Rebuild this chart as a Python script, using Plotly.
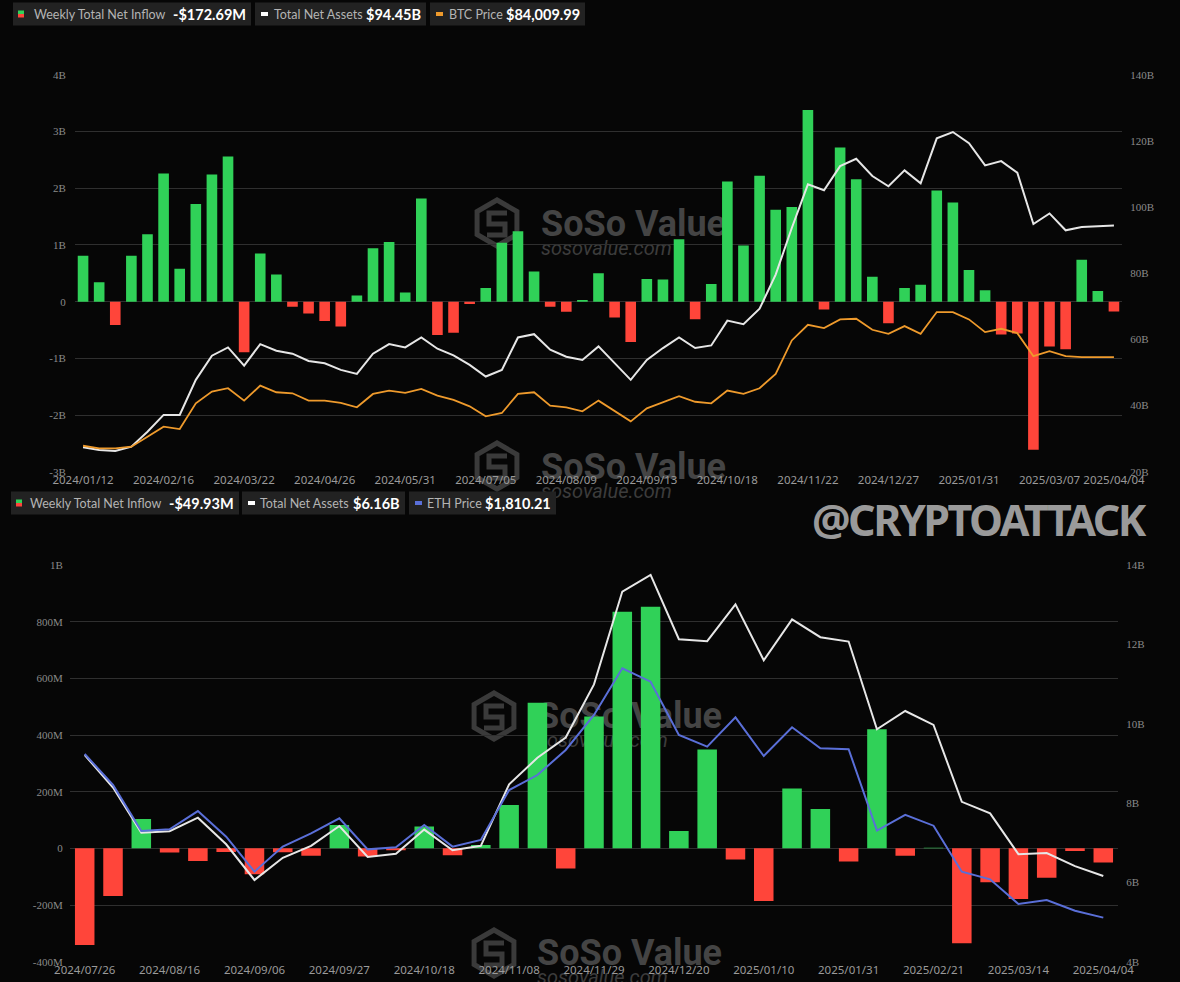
import math
import pandas as pd
import plotly.graph_objects as go

# ---------------- DATA ----------------
btc_dates = [d.strftime('%Y/%m/%d') for d in pd.date_range('2024-01-12', periods=65, freq='7D')]
btc_flow_b = [0.81, 0.34, -0.41, 0.81, 1.19, 2.26, 0.58, 1.72, 2.24, 2.56,
              -0.89, 0.85, 0.48, -0.09, -0.21, -0.34, -0.44, 0.11, 0.94, 1.05,
              0.16, 1.82, -0.59, -0.55, -0.04, 0.24, 1.04, 1.24, 0.53, -0.09,
              -0.18, 0.03, 0.50, -0.28, -0.71, 0.40, 0.39, 1.10, -0.31, 0.31,
              2.12, 0.99, 2.22, 1.62, 1.67, 3.38, -0.14, 2.72, 2.16, 0.44,
              -0.38, 0.24, 0.30, 1.96, 1.75, 0.56, 0.20, -0.58, -0.56, -2.61,
              -0.79, -0.84, 0.74, 0.19, -0.17269]
btc_assets_b = [27.4, 26.6, 26.3, 27.6, 32.1, 37.2, 37.2, 47.8, 55.1, 57.6,
                52.1, 58.6, 56.6, 55.7, 53.5, 52.8, 50.8, 49.6, 55.7, 58.6,
                57.6, 60.6, 57.2, 55.2, 52.3, 48.8, 50.8, 60.6, 61.6, 56.9,
                54.8, 53.8, 57.9, 52.8, 47.8, 53.8, 57.4, 60.6, 57.4, 58.2,
                65.7, 64.6, 69.3, 79.6, 93.7, 106.9, 105.1, 112.4, 114.6, 109.4,
                106.3, 111.1, 107.2, 120.8, 122.7, 119.3, 112.6, 113.9, 110.4, 94.9,
                98.1, 93.0, 94.0, 94.2, 94.45]
btc_price = [44070, 42870, 42870, 43620, 48150, 52660, 51610, 63210, 68490, 70000,
             64420, 71200, 68190, 67730, 64420, 64420, 63360, 61400, 67430, 68940,
             67880, 69690, 66680, 64720, 61860, 57340, 58840, 67430, 68190, 62160,
             61400, 59600, 64420, 59900, 55080, 60950, 63660, 66380, 63910, 63210,
             68940, 67430, 70000, 76480, 91550, 98630, 97120, 101040, 101340, 96370,
             94560, 98020, 94560, 104350, 104350, 101040, 95310, 96820, 94860, 84460,
             86720, 84460, 84010, 84010, 84009.99]
btc_ticks = ['2024/01/12', '2024/02/16', '2024/03/22', '2024/04/26', '2024/05/31',
             '2024/07/05', '2024/08/09', '2024/09/13', '2024/10/18', '2024/11/22',
             '2024/12/27', '2025/01/31', '2025/03/07', '2025/04/04']
btc_left_vals = [-3, -2, -1, 0, 1, 2, 3, 4]
btc_left_text = ['-3B', '-2B', '-1B', '0', '1B', '2B', '3B', '4B']
btc_right_vals = [20, 40, 60, 80, 100, 120, 140]
btc_right_text = ['20B', '40B', '60B', '80B', '100B', '120B', '140B']

eth_dates = [d.strftime('%Y/%m/%d') for d in pd.date_range('2024-07-26', periods=37, freq='7D')]
eth_flow_m = [-341, -168, 104, -15, -45, -13, -91, -14, -26, 82,
              -29, -7, 77, -24, 12, 153, 514, -71, 465, 835,
              853, 61, 349, -39, -186, 211, 139, -46, 420, -26,
              2, -335, -120, -179, -104, -9, -49.93]
eth_assets_b = [9.21, 8.39, 7.25, 7.29, 7.63, 6.96, 6.06, 6.62, 6.92, 7.42,
                6.64, 6.72, 7.33, 6.81, 6.92, 8.47, 9.14, 9.65, 10.99, 13.33,
                13.75, 12.13, 12.08, 13.01, 11.60, 12.63, 12.18, 12.07, 9.86, 10.32,
                9.97, 8.03, 7.74, 6.71, 6.74, 6.41, 6.16]
eth_price = [3241, 2970, 2568, 2582, 2742, 2518, 2212, 2431, 2547, 2678,
             2407, 2425, 2620, 2431, 2489, 2926, 3057, 3276, 3582, 3990,
             3873, 3407, 3305, 3561, 3223, 3474, 3290, 3282, 2571, 2708,
             2614, 2212, 2145, 1929, 1964, 1871, 1810.21]
eth_ticks = ['2024/07/26', '2024/08/16', '2024/09/06', '2024/09/27', '2024/10/18',
             '2024/11/08', '2024/11/29', '2024/12/20', '2025/01/10', '2025/01/31',
             '2025/02/21', '2025/03/14', '2025/04/04']
eth_left_vals = [-400, -200, 0, 200, 400, 600, 800, 1000]
eth_left_text = ['-400M', '-200M', '0', '200M', '400M', '600M', '800M', '1B']
eth_right_vals = [4, 6, 8, 10, 12, 14]
eth_right_text = ['4B', '6B', '8B', '10B', '12B', '14B']

# ---------------- STYLE ----------------
W, H = 1180, 982
BG = '#060606'
GREEN = '#30d158'
RED = '#ff453a'
WHITE_LINE = '#e6e6e6'
ORANGE = '#ee9a2c'
BLUE = '#5a6fd8'
GRID = '#2f2f2f'
TICK_COLOR = '#8a8a8a'


def X(p):
    return p / W


def Y(p):
    return 1 - p / H


def colors(vals):
    return [GREEN if v >= 0 else RED for v in vals]


fig = go.Figure()

# ---- BTC panel ----
fig.add_trace(go.Bar(x=btc_dates, y=btc_flow_b, marker=dict(color=colors(btc_flow_b), line=dict(width=0)),
                     width=0.66, xaxis='x', yaxis='y', name='Weekly Total Net Inflow'))
fig.add_trace(go.Scatter(x=btc_dates, y=btc_assets_b, mode='lines', line=dict(color=WHITE_LINE, width=2),
                         xaxis='x', yaxis='y2', name='Total Net Assets'))
fig.add_trace(go.Scatter(x=btc_dates, y=btc_price, mode='lines', line=dict(color=ORANGE, width=1.8),
                         xaxis='x', yaxis='y3', name='BTC Price'))

# ---- ETH panel ----
fig.add_trace(go.Bar(x=eth_dates, y=eth_flow_m, marker=dict(color=colors(eth_flow_m), line=dict(width=0)),
                     width=0.69, xaxis='x2', yaxis='y4', name='Weekly Total Net Inflow'))
fig.add_trace(go.Scatter(x=eth_dates, y=eth_assets_b, mode='lines', line=dict(color=WHITE_LINE, width=2),
                         xaxis='x2', yaxis='y5', name='Total Net Assets'))
fig.add_trace(go.Scatter(x=eth_dates, y=eth_price, mode='lines', line=dict(color=BLUE, width=2),
                         xaxis='x2', yaxis='y6', name='ETH Price'))

xfont = dict(family='Noto Sans, Open Sans, sans-serif', size=11.5, color='#9a9a9a')
yfont = dict(family='Liberation Serif, serif', size=11, color=TICK_COLOR)

top_dom = [Y(471.8), Y(74.8)]
bot_dom = [Y(961.7), Y(565)]

common_x = dict(type='category', showgrid=False, zeroline=False, showline=False, ticks='',
                tickfont=xfont, tickangle=0, automargin=False, fixedrange=True)

fig.update_layout(
    width=W, height=H,
    margin=dict(l=0, r=0, t=0, b=0),
    paper_bgcolor=BG, plot_bgcolor='rgba(0,0,0,0)',
    showlegend=False,
    xaxis=dict(domain=[X(75), X(1122)], anchor='y', range=[-0.5, 64.5],
               tickmode='array', tickvals=btc_ticks, ticktext=btc_ticks, **common_x),
    yaxis=dict(domain=top_dom, range=[-3, 4], tickmode='array', tickvals=btc_left_vals,
               ticktext=btc_left_text, showgrid=True, gridcolor=GRID, gridwidth=1, zeroline=False,
               tickfont=yfont, ticks='outside', ticklen=6, tickcolor='rgba(0,0,0,0)',
               automargin=False, fixedrange=True),
    yaxis2=dict(domain=top_dom, overlaying='y', side='right', anchor='x', range=[20, 140],
                tickmode='array', tickvals=btc_right_vals, ticktext=btc_right_text, showgrid=False,
                zeroline=False, tickfont=yfont, ticks='outside', ticklen=5, tickcolor='rgba(0,0,0,0)',
                automargin=False, fixedrange=True),
    yaxis3=dict(domain=top_dom, overlaying='y', anchor='x', range=[32320, 211350], visible=False,
                fixedrange=True),
    xaxis2=dict(domain=[X(70), X(1118)], anchor='y4', range=[-0.52, 36.52],
                tickmode='array', tickvals=eth_ticks, ticktext=eth_ticks, **common_x),
    yaxis4=dict(domain=bot_dom, anchor='x2', range=[-400, 1000], tickmode='array', tickvals=eth_left_vals,
                ticktext=eth_left_text, showgrid=True, gridcolor=GRID, gridwidth=1, zeroline=False,
                tickfont=yfont, ticks='outside', ticklen=4, tickcolor='rgba(0,0,0,0)',
                automargin=False, fixedrange=True),
    yaxis5=dict(domain=bot_dom, overlaying='y4', side='right', anchor='x2', range=[4, 14],
                tickmode='array', tickvals=eth_right_vals, ticktext=eth_right_text, showgrid=False,
                zeroline=False, tickfont=yfont, ticks='outside', ticklen=5, tickcolor='rgba(0,0,0,0)',
                automargin=False, fixedrange=True),
    yaxis6=dict(domain=bot_dom, overlaying='y4', anchor='x2', range=[1425, 4893], visible=False,
                fixedrange=True),
)

shapes = []
annotations = []


# ---- watermarks (below traces) ----
def hex_path(cx, cy, r):
    pts = []
    for k in range(6):
        a = math.radians(90 + 60 * k)
        pts.append((X(cx + r * math.cos(a)), Y(cy - r * math.sin(a))))
    return 'M ' + ' L '.join(f'{px:.5f},{py:.5f}' for px, py in pts) + ' Z'


def watermark(lx, ly, tx, ty):
    shapes.append(dict(type='path', xref='paper', yref='paper', path=hex_path(lx, ly, 23),
                       line=dict(color='#3a3a3a', width=5), layer='below'))
    shapes.append(dict(type='path', xref='paper', yref='paper',
                       path=f'M {X(lx+10):.5f},{Y(ly-10):.5f} L {X(lx-8):.5f},{Y(ly-10):.5f} '
                            f'L {X(lx-8):.5f},{Y(ly+1):.5f} L {X(lx+8):.5f},{Y(ly+1):.5f} '
                            f'L {X(lx+8):.5f},{Y(ly+12):.5f} L {X(lx-10):.5f},{Y(ly+12):.5f}',
                       line=dict(color='#3a3a3a', width=5), layer='below'))
    shapes.append(dict(type='rect', xref='paper', yref='paper', x0=X(tx), x1=X(tx + 190),
                       y0=Y(ty + 16), y1=Y(ty - 16), line=dict(width=0), fillcolor='rgba(0,0,0,0)',
                       layer='below',
                       label=dict(text='<b>SoSo Value</b>', textposition='middle left',
                                  font=dict(family='Roboto, sans-serif', size=36, color='#444444'),
                                  padding=0)))
    shapes.append(dict(type='rect', xref='paper', yref='paper', x0=X(tx), x1=X(tx + 150),
                       y0=Y(ty + 36), y1=Y(ty + 16), line=dict(width=0), fillcolor='rgba(0,0,0,0)',
                       layer='below',
                       label=dict(text='<i>sosovalue.com</i>', textposition='middle left',
                                  font=dict(family='Roboto, sans-serif', size=20, color='#3c3c3c'),
                                  padding=0)))


watermark(497, 223, 538, 221)
watermark(497, 466, 538, 464)
watermark(494, 716, 534, 713)
watermark(494, 953, 534, 950)

# ---- legend boxes ----
def legend_box(x0, x1, yc, kind, color, label, value, label_x):
    shapes.append(dict(type='rect', xref='paper', yref='paper', x0=X(x0), x1=X(x1),
                       y0=Y(yc + 11.5), y1=Y(yc - 11.5), fillcolor='#222222', line=dict(width=0),
                       layer='above'))
    if kind == 'bar':
        shapes.append(dict(type='rect', xref='paper', yref='paper', x0=X(x0 + 5), x1=X(x0 + 11),
                           y0=Y(yc), y1=Y(yc - 3.5), fillcolor=GREEN, line=dict(width=0)))
        shapes.append(dict(type='rect', xref='paper', yref='paper', x0=X(x0 + 5), x1=X(x0 + 11),
                           y0=Y(yc + 3.5), y1=Y(yc), fillcolor=RED, line=dict(width=0)))
    else:
        shapes.append(dict(type='line', xref='paper', yref='paper', x0=X(x0 + 6), x1=X(x0 + 13),
                           y0=Y(yc), y1=Y(yc), line=dict(color=color, width=4)))
    annotations.append(dict(xref='paper', yref='paper', x=X(label_x), y=Y(yc), xanchor='left',
                            yanchor='middle', showarrow=False, text=label,
                            font=dict(family='Lato, sans-serif', size=12.5, color='#b4b4b4')))
    annotations.append(dict(xref='paper', yref='paper', x=X(x1 - 3), y=Y(yc), xanchor='right',
                            yanchor='middle', showarrow=False, text='<b>' + value + '</b>',
                            font=dict(family='Lato, sans-serif', size=14.5, color='#ffffff')))


legend_box(13, 251, 14, 'bar', None, 'Weekly Total Net Inflow', '-$172.69M', 32)
legend_box(255, 426, 14, 'line', '#ffffff', 'Total Net Assets', '$94.45B', 272)
legend_box(430, 585, 14, 'line', ORANGE, 'BTC Price', '$84,009.99', 447)

legend_box(11, 239, 503, 'bar', None, 'Weekly Total Net Inflow', '-$49.93M', 28)
legend_box(242, 405, 503, 'line', '#ffffff', 'Total Net Assets', '$6.16B', 258)
legend_box(409, 556, 503, 'line', BLUE, 'ETH Price', '$1,810.21', 425)

# ---- handle text ----
annotations.append(dict(xref='paper', yref='paper', x=X(979), y=Y(519), xanchor='center', yanchor='middle',
                        showarrow=False,
                        text='<span style="letter-spacing:-2.5px">@CRYPTOATTACK</span>',
                        font=dict(family='Noto Sans, DejaVu Sans, sans-serif', weight='bold',
                                  size=43, color='#9a9a9a')))

fig.update_layout(shapes=shapes, annotations=annotations)

fig.write_html('out.html', config={'displayModeBar': False, 'staticPlot': True},
               post_script="document.body.style.margin='0';document.body.style.overflow='hidden';")
